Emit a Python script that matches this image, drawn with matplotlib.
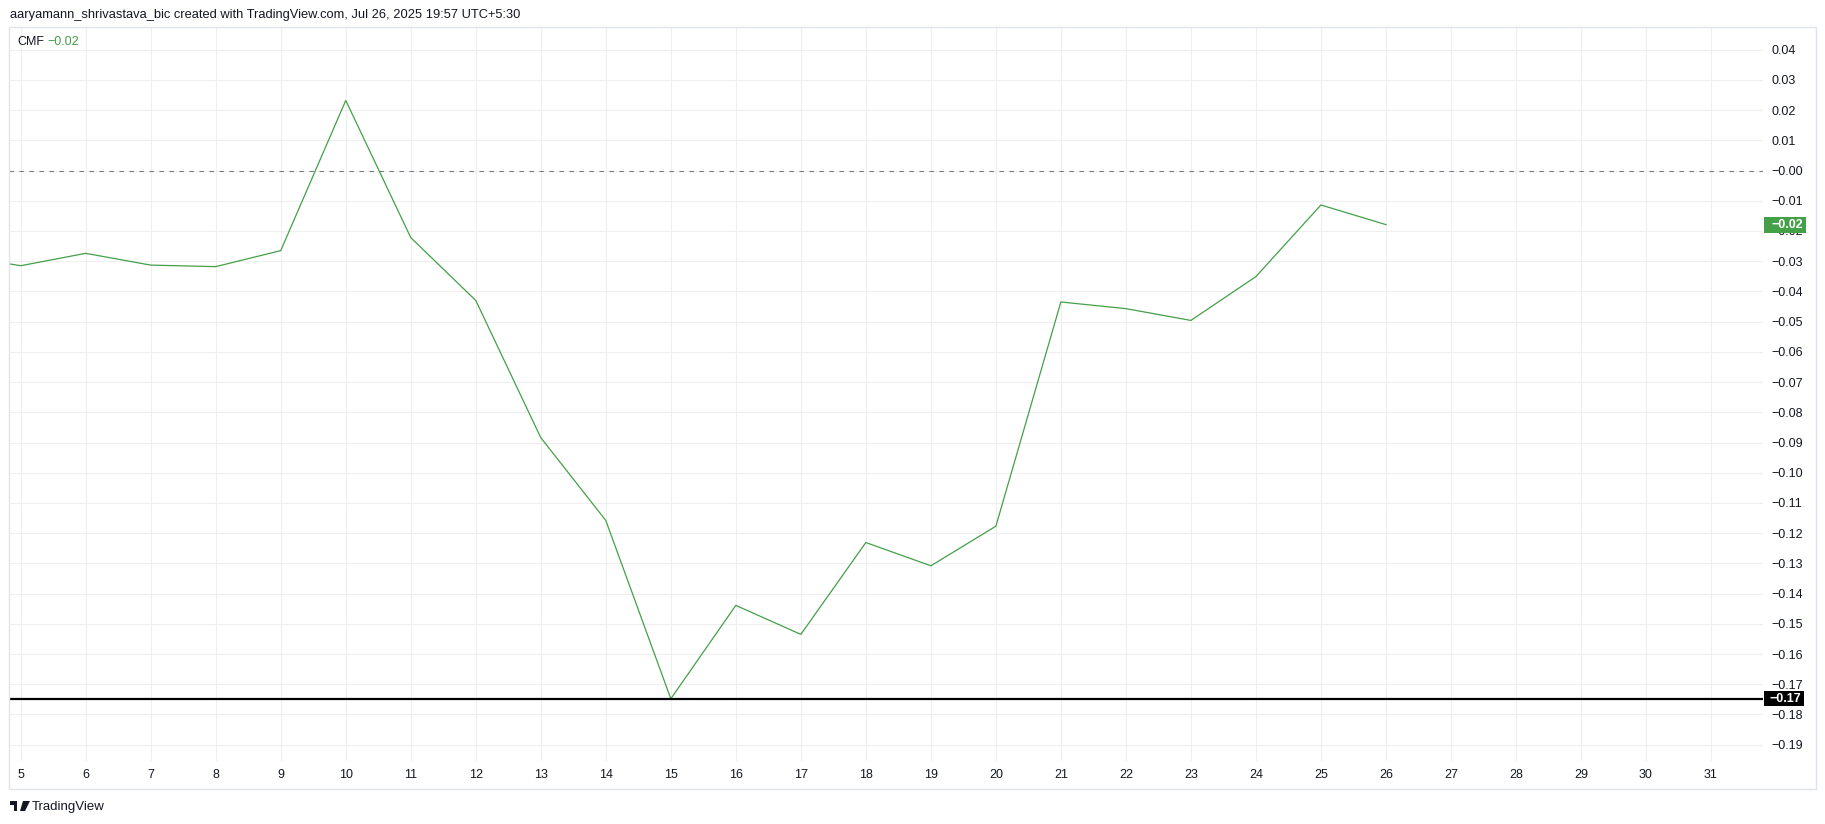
import matplotlib
matplotlib.use("Agg")
import matplotlib.pyplot as plt
from matplotlib.patches import Rectangle, Polygon

# -----------------------------
# Data
# -----------------------------
days = [4, 5, 6, 7, 8, 9, 10, 11, 12, 13, 14, 15, 16, 17, 18, 19, 20,
        21, 22, 23, 24, 25, 26]
cmf_values = [-0.0280, -0.0315, -0.0274, -0.0313, -0.0318, -0.0265, 0.0232,
              -0.0222, -0.0430, -0.0884, -0.1158, -0.1748, -0.1439, -0.1535,
              -0.1231, -0.1308, -0.1177, -0.0435, -0.0457, -0.0496, -0.0351,
              -0.0114, -0.0179]
x_tick_days = list(range(5, 32))
y_tick_values = [round(0.04 - 0.01 * i, 2) for i in range(24)]
low_level = -0.1748
last_label = "\u22120.02"
low_label = "\u22120.17"
header = ("aaryamann_shrivastava_bic created with TradingView.com, "
          "Jul 26, 2025 19:57 UTC+5:30")

# -----------------------------
# Style
# -----------------------------
W, H = 1825, 824
TEXT = "#131722"
GREEN = "#43a047"
GRID = "#efefef"
FONT = "Liberation Sans"
plt.rcParams["font.family"] = [FONT, "DejaVu Sans"]


def fx(px):
    return px / W


def fy(py):
    return 1 - py / H


def fmt(v):
    s = f"{abs(v):.2f}"
    return ("\u2212" + s) if v <= 0 else s


fig = plt.figure(figsize=(W / 100, H / 100), dpi=100, facecolor="white")

# plot area in pixel coordinates
left, top, right, bottom = 9, 27, 1763, 761
ax = fig.add_axes([fx(left), fy(bottom), fx(right - left), (bottom - top) / H])

ax.plot(days, cmf_values, color=GREEN, linewidth=0.9, zorder=3)
ax.axhline(0, color="#787b86", linewidth=0.8, dashes=(4, 5), zorder=2)
ax.axhline(low_level, color="black", linewidth=1.6, zorder=4)

ax.set_xlim(4.82, 31.80)
ax.set_ylim(-0.1954, 0.0475)

ax.set_xticks(x_tick_days)
ax.set_xticklabels([str(d) for d in x_tick_days])
ax.set_yticks(y_tick_values)
ax.set_yticklabels([fmt(v) for v in y_tick_values])
ax.yaxis.tick_right()
ax.tick_params(axis="both", length=0, labelsize=9, labelcolor=TEXT)
ax.tick_params(axis="x", pad=6)
ax.tick_params(axis="y", pad=6)
for lbl in ax.get_yticklabels():
    lbl.set_horizontalalignment("left")

ax.grid(True, color=GRID, linewidth=0.8)
ax.set_axisbelow(True)
for s in ax.spines.values():
    s.set_visible(False)

# outer frame
fig.patches.append(Rectangle((fx(9), fy(789)), fx(1816 - 9), (789 - 27) / H,
                             transform=fig.transFigure, fill=False,
                             edgecolor="#e0e3eb", linewidth=1.0))

# price labels on the scale
fig.patches.append(Rectangle((fx(1764), fy(233)), fx(42), 16 / H,
                             transform=fig.transFigure, facecolor=GREEN,
                             edgecolor="none", zorder=5))
fig.text(fx(1771), fy(225), last_label, color="white", fontsize=9,
         fontweight="bold", va="center", ha="left", zorder=6)
fig.patches.append(Rectangle((fx(1764), fy(706)), fx(40), 15 / H,
                             transform=fig.transFigure, facecolor="black",
                             edgecolor="none", zorder=5))
fig.text(fx(1770), fy(699), low_label, color="white", fontsize=9,
         fontweight="bold", va="center", ha="left", zorder=6)

# header and legend
fig.text(fx(10), fy(15), header, color=TEXT, fontsize=9.3, va="center")
fig.text(fx(17), fy(42), "CMF", color=TEXT, fontsize=9, va="center")
fig.text(fx(47), fy(42), last_label, color=GREEN, fontsize=9, va="center")

# TradingView logo
logo = [
    Rectangle((fx(10), fy(805)), fx(7), 4 / H),
    Rectangle((fx(13.5), fy(811)), fx(3.5), 10 / H),
    Polygon([(fx(23), fy(801)), (fx(30), fy(801)), (fx(25), fy(811)),
             (fx(20), fy(811))], closed=True),
]
for p in logo:
    p.set_transform(fig.transFigure)
    p.set_facecolor(TEXT)
    p.set_edgecolor("none")
    fig.patches.append(p)
fig.text(fx(32), fy(807), "TradingView", color=TEXT, fontsize=9.5, va="center")

fig.savefig("out.png", dpi=100, facecolor="white")
